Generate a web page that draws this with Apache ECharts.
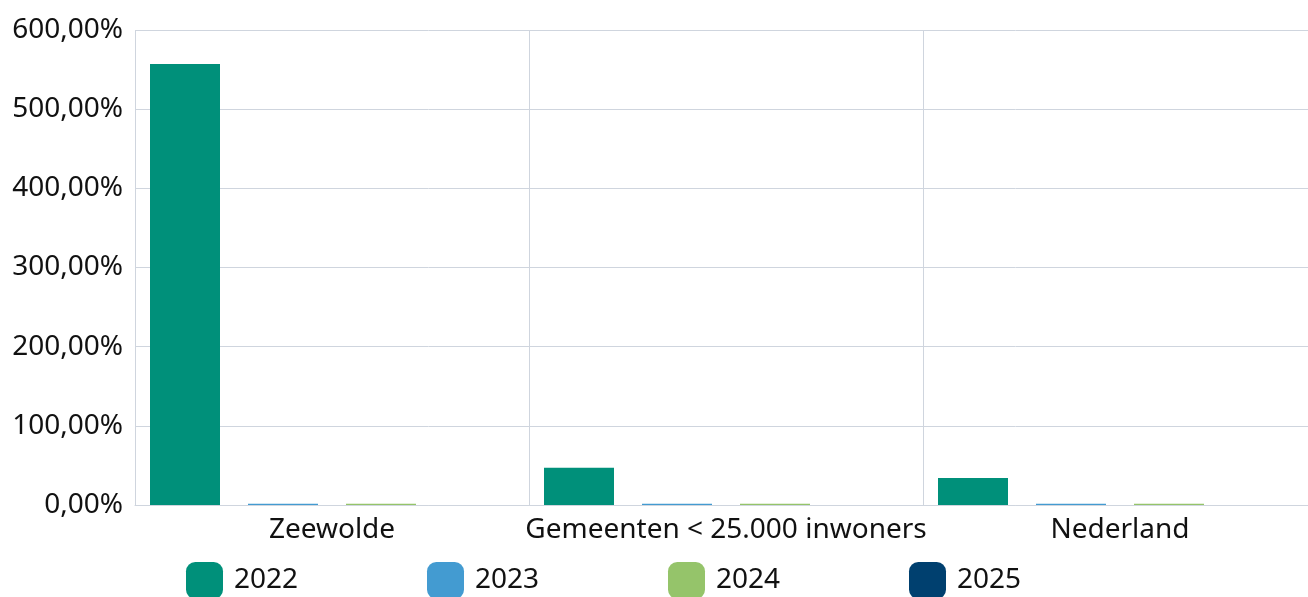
<!DOCTYPE html>
<html>
<head>
<meta charset="utf-8">
<script src="https://cdn.jsdelivr.net/npm/echarts@6/dist/echarts.min.js"></script>
<style>
  html, body { margin: 0; padding: 0; background: #fff; overflow: hidden; }
  #chart { width: 1308px; height: 597px; }
</style>
</head>
<body>
<div id="chart"></div>
<script>
const categories = ['Zeewolde', 'Gemeenten < 25.000 inwoners', 'Nederland'];
const years = ['2022', '2023', '2024', '2025'];
const values2022 = [557, 47, 34];
const values2023 = [1.5, 1.5, 1.5];
const values2024 = [1.5, 1.5, 1.5];
const values2025 = [0, 0, 0];
const colors = ['#00907a', '#439bd1', '#95c46a', '#00406f'];

const font = '"Noto Sans", sans-serif';
const gridColor = '#cfd5de';
const fontSize = 28;

const myChart = echarts.init(document.getElementById('chart'));
const seriesValues = [values2022, values2023, values2024, values2025];
const option = {
  animation: false,
  color: colors,
  grid: {
    left: 135,
    width: 1182,
    top: 30,
    bottom: 92,
    containLabel: false,
    outerBoundsMode: 'none',
  },
  // one legend per year so every item sits at its own fixed place
  legend: years.map((y, i) => ({
    data: [y],
    left: 186 + i * 241,
    top: 562,
    padding: 0,
    icon: 'roundRect',
    itemWidth: 37,
    itemHeight: 37,
    textStyle: {
      fontFamily: font,
      fontSize: fontSize,
      color: '#111',
      padding: [0, 0, 0, 6],
    },
  })),
  xAxis: {
    type: 'category',
    data: categories,
    axisLine: { lineStyle: { color: gridColor } },
    axisTick: { show: false },
    splitLine: { show: true, lineStyle: { color: gridColor } },
    axisLabel: {
      fontFamily: font,
      fontSize: fontSize,
      color: '#111',
      margin: 11,
      interval: 0,
    },
  },
  yAxis: {
    type: 'value',
    min: 0,
    max: 600,
    interval: 100,
    axisLine: { show: false },
    axisTick: { show: false },
    splitLine: { lineStyle: { color: gridColor } },
    axisLabel: {
      fontFamily: font,
      fontSize: fontSize,
      color: '#111',
      margin: 12,
      formatter: (v) => v.toFixed(2).replace('.', ',') + '%',
    },
  },
  series: years.map((y, i) => ({
    name: y,
    type: 'bar',
    data: seriesValues[i],
    barWidth: 70,
    barGap: '40%',
    itemStyle: { color: colors[i] },
  })),
};
myChart.setOption(option);
</script>
</body>
</html>
